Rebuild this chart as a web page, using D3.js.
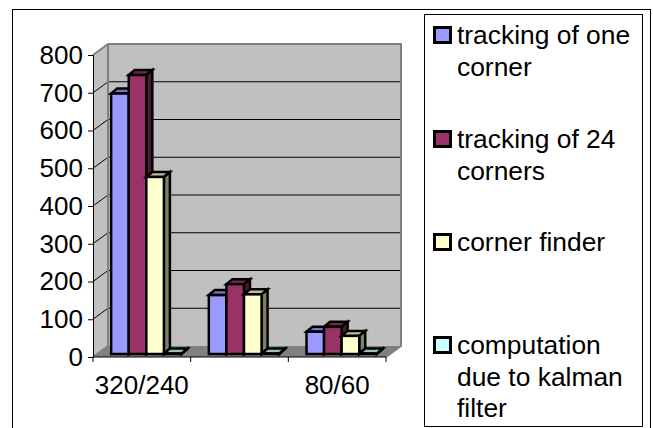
<!DOCTYPE html>
<html><head><meta charset="utf-8">
<script src="https://cdn.jsdelivr.net/npm/d3@7"></script>
<style>html,body{margin:0;padding:0;background:#fff}svg{display:block}text{font-family:"Liberation Sans",Arial,sans-serif;fill:#000}</style>
</head><body><svg id="chart" width="653" height="428"></svg>
<script>
const categories = ["320/240", "160/120", "80/60"];
const shownCategories = ["320/240", "80/60"];
const seriesNames = ["tracking of one corner", "tracking of 24 corners", "corner finder", "computation due to kalman filter"];
const trackingOne = [690, 156, 59];
const trackingMany = [739, 185, 72];
const cornerFinder = [469, 158, 48];
const kalman = [1, 1, 1];
const seriesValues = [trackingOne, trackingMany, cornerFinder, kalman];
const fills = ["#9999ff", "#993366", "#ffffcc", "#ccffff"];
const sideFills = ["#4d4d80", "#4d1a33", "#808066", "#668080"];
const topFills = ["#7373bf", "#73264d", "#bfbf99", "#99bfbf"];
const legendLines = [["tracking of one", "corner"], ["tracking of 24", "corners"], ["corner finder"], ["computation", "due to kalman", "filter"]];
const yTicks = [0, 100, 200, 300, 400, 500, 600, 700, 800];

const svg = d3.select("#chart");

// Plot box: front floor edge, and the offset to the back wall
const frontLeft = 93, frontRight = 386, frontBase = 357, frontTop = 55;
const wallDx = 15, wallDy = -11;
const barDx = 4, barDy = -3, depthDx = 6, depthDy = -5;

const x = d3.scaleBand().domain(categories).range([frontLeft, frontRight]);
const y = d3.scaleLinear().domain([0, 800]).range([frontBase, frontTop]);
const inner = d3.scaleBand().domain(d3.range(4)).range([14.5, 86.5]);

// Outer frame and legend frame
svg.append("rect").attr("x", 12.5).attr("y", 9.5).attr("width", 638).attr("height", 430)
  .attr("fill", "#fff").attr("stroke", "#000").attr("stroke-width", 1);
svg.append("rect").attr("x", 424.5).attr("y", 14.5).attr("width", 218).attr("height", 412)
  .attr("fill", "#fff").attr("stroke", "#000").attr("stroke-width", 1);

const poly = (pts, fill, stroke, sw) => svg.append("polygon")
  .attr("points", pts.map(p => p.join(",")).join(" "))
  .attr("fill", fill).attr("stroke", stroke).attr("stroke-width", sw);

// Walls and floor
const bx0 = frontLeft + wallDx, bx1 = frontRight + wallDx, by0 = frontBase + wallDy, by1 = frontTop + wallDy;
poly([[frontLeft, frontBase], [bx0, by0], [bx0, by1], [frontLeft, frontTop]], "#c0c0c0", "none", 0);
poly([[bx0, by1], [bx1, by1], [bx1, by0], [bx0, by0]], "#c0c0c0", "none", 0);
poly([[frontLeft, frontBase], [frontRight, frontBase], [bx1, by0], [bx0, by0]], "#808080", "none", 0);

// Gridlines along both walls
yTicks.slice(1, -1).forEach(t => {
  const v = y(t);
  svg.append("path").attr("d", `M${frontLeft},${v}L${bx0},${v + wallDy}L${bx1},${v + wallDy}`)
    .attr("fill", "none").attr("stroke", "#000").attr("stroke-width", 1);
});

// Wall edges
svg.append("path").attr("d", `M${frontLeft},${frontTop}L${bx0},${by1}L${bx1},${by1}L${bx1},${by0}L${frontRight},${frontBase}`)
  .attr("fill", "none").attr("stroke", "#808080").attr("stroke-width", 2);
svg.append("path").attr("d", `M${bx0},${by1}L${bx0},${by0}L${frontLeft},${frontBase}`)
  .attr("fill", "none").attr("stroke", "#808080").attr("stroke-width", 2);

// Bars, drawn back to front, left to right
categories.forEach((c, ci) => {
  seriesValues.forEach((vals, si) => {
    const x0 = x(c) + (inner(si) / 100) * x.bandwidth() + barDx;
    const w = (inner.bandwidth() / 100) * x.bandwidth();
    const b = frontBase + barDy;
    const t = y(vals[ci]) + barDy;
    const x1 = x0 + w;
    const g = 2.5;
    poly([[x0, t], [x1, t], [x1 + depthDx, t + depthDy], [x0 + depthDx, t + depthDy]], topFills[si], "#000", g);
    poly([[x1, t], [x1 + depthDx, t + depthDy], [x1 + depthDx, b + depthDy], [x1, b]], sideFills[si], "#000", g);
    svg.append("rect").attr("x", x0).attr("y", t).attr("width", w).attr("height", b - t)
      .attr("fill", fills[si]).attr("stroke", "#000").attr("stroke-width", g);
  });
});

// Axes
const yAxis = d3.axisLeft(y).tickValues(yTicks).tickSize(5).tickPadding(5);
svg.append("g").attr("transform", `translate(${frontLeft},0)`).call(yAxis)
  .call(g => g.selectAll("text").style("font-size", "26px").attr("font-family", null))
  .call(g => g.select(".domain").attr("stroke", "#000"));

const xTickPos = categories.map(c => x(c)).concat([frontRight]);
const xg = svg.append("g");
xg.append("path").attr("d", `M${frontLeft},${frontBase}H${frontRight}`).attr("stroke", "#000");
xg.selectAll("line").data(xTickPos).join("line")
  .attr("x1", d => d).attr("x2", d => d).attr("y1", frontBase).attr("y2", frontBase + 5).attr("stroke", "#000");
xg.selectAll("text").data(shownCategories).join("text")
  .attr("x", d => x(d) + x.bandwidth() / 2).attr("y", 394).attr("text-anchor", "middle")
  .style("font-size", "26px").text(d => d);

// Legend
const legendY = [44, 148, 251, 354];
const lineH = 31.5;
seriesNames.forEach((n, i) => {
  const g = svg.append("g").attr("transform", `translate(0,${legendY[i]})`);
  g.append("rect").attr("x", 434.5).attr("y", -16.5).attr("width", 16).attr("height", 15)
    .attr("fill", fills[i]).attr("stroke", "#000").attr("stroke-width", 3);
  legendLines[i].forEach((l, k) => g.append("text").attr("x", 457).attr("y", k * lineH)
    .style("font-size", "26.4px").text(l));
});
</script></body></html>
